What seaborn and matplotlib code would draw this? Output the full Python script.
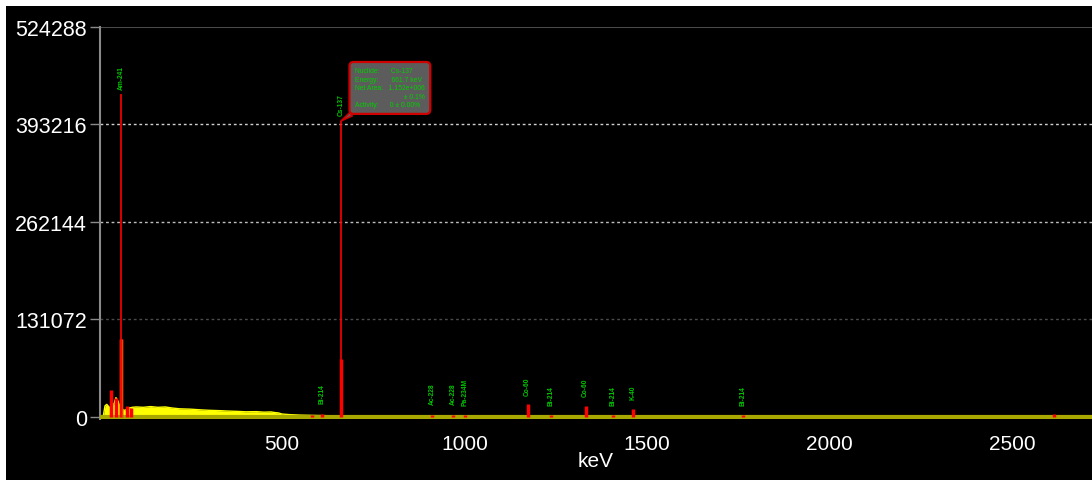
import numpy as np
import pandas as pd
import matplotlib
matplotlib.use('Agg')
import matplotlib.pyplot as plt
from matplotlib.patches import Rectangle
import seaborn as sns

# continuum (yellow area)
cont_kev = [10, 15, 20, 25, 30, 35, 40, 45, 50, 55, 60, 65, 70, 80, 90, 100, 120, 140, 160, 180,
            200, 220, 250, 280, 300, 330, 350, 380, 400, 430, 450, 470, 480, 490, 500, 520, 550,
            600, 650, 700, 800, 1000, 1500, 2000, 2700]
cont_counts = [0, 15000, 17000, 14000, 12000, 16000, 18000, 26000, 22000, 15000, 12000, 9500,
               9000, 12000, 13000, 13500, 13000, 14000, 13000, 13500, 12000, 11000, 10500, 9500,
               9000, 8500, 8000, 7500, 7000, 7200, 6500, 6800, 6000, 5500, 4000, 3200, 2500,
               2000, 1500, 1000, 600, 300, 200, 100, 50]

# red peaks in the spectrum
peak_kev = [32, 46, 59.5, 75, 85, 583, 609, 661.7, 911, 969, 1001, 1173, 1238, 1332, 1408, 1461, 1764, 2614]
peak_counts = [36000, 25000, 105000, 15000, 12000, 3000, 3500, 78000, 2500, 2500, 2500, 17000,
               2500, 15000, 2500, 11000, 2500, 3500]

# identified nuclides (green labels)
nuc_names = ['Am-241', 'Cs-137', 'Bi-214', 'Ac-228', 'Ac-228', 'Pa-234M', 'Co-60', 'Bi-214',
             'Co-60', 'Bi-214', 'K-40', 'Bi-214']
nuc_kev = [59.5, 661.7, 609, 911, 969, 1001, 1173, 1238, 1332, 1408, 1461, 1764]
nuc_top = [434000, 398000, 6000, 5000, 4000, 3000, 17000, 3500, 15000, 3500, 11000, 3500]

y_ticks = [0, 131072, 262144, 393216, 524288]
x_ticks = [500, 1000, 1500, 2000, 2500]

sns.set_style('dark')
plt.rcParams['font.family'] = ['Liberation Sans', 'DejaVu Sans']

fig = plt.figure(figsize=(10.92, 4.85), dpi=100, facecolor='white')
fig.patches.append(Rectangle((6 / 1092, 4 / 485), 1 - 6 / 1092, 474 / 485,
                             transform=fig.transFigure, facecolor='black', edgecolor='none', zorder=-1))
ax = fig.add_axes([99.5 / 1092, 65 / 485, 992.5 / 1092, 392 / 485])
ax.set_facecolor('black')

ax.set_xlim(0, 2719)
ax.set_ylim(-2700, 524288)

# grid lines
ax.axhline(524288, color='#5a5a5a', lw=1.2, zorder=1)
ax.axhline(393216, color='#cfcfcf', lw=1, ls=(0, (2, 2)), zorder=1)
ax.axhline(262144, color='#bdbdbd', lw=1, ls=(0, (2, 2)), zorder=1)
ax.axhline(131072, color='#4a4a4a', lw=1, ls=(0, (2, 2)), zorder=1)

# spectrum
df = pd.DataFrame({'keV': cont_kev, 'counts': cont_counts})
ax.fill_between(df['keV'], 0, df['counts'], color='#ffff00', lw=0, zorder=2)
sns.lineplot(data=df, x='keV', y='counts', color='#ffff00', lw=1, ax=ax, zorder=2)
ax.axhline(0, color='#a8a800', lw=3, zorder=3)

pk = pd.DataFrame({'keV': peak_kev, 'counts': peak_counts})
ax.vlines(pk['keV'], 0, pk['counts'], color='#ff0000', lw=2.5, zorder=4)
ax.vlines([59.5], 0, [105000], color='#e04a00', lw=2.5, zorder=4)

# nuclide markers and labels
for name, e, top in zip(nuc_names, nuc_kev, nuc_top):
    if top > 100000:
        ax.vlines(e, 0, top, color='#ff0000', lw=1.2, zorder=4)
    ax.annotate(name, (e, top), xytext=(0, 4 if top > 100000 else 7), textcoords='offset points',
                rotation=90, ha='center', va='bottom', fontsize=4.8, fontweight='bold',
                color='#00c800', zorder=5)

# callout for Cs-137
info = ('Nuclide:      Cs-137\nEnergy:       661.7 keV\nNet Area:   1.152e+006\n'
        '                          \u00b1 0.1%\nActivity:      0 \u00b1 0.00%')
ax.annotate(info, (661.7, 398000), xytext=(10, 9), textcoords='offset points',
            ha='left', va='bottom', fontsize=4.9, color='#00d000', linespacing=1.3,
            bbox=dict(boxstyle='round,pad=0.8,rounding_size=0.6', fc='#5c5c5c', ec='#d00000', lw=1.6),
            arrowprops=dict(arrowstyle='wedge,tail_width=0.6,shrink_factor=0.5', fc='#5c5c5c',
                            ec='#d00000', lw=1.2, shrinkA=0, shrinkB=0),
            zorder=6)

for s in ['top', 'right', 'bottom']:
    ax.spines[s].set_visible(False)
ax.spines['left'].set_color('#8a8a8a')
ax.spines['left'].set_linewidth(1.5)

ax.set_yticks(y_ticks)
ax.set_yticklabels([str(v) for v in y_ticks])
ax.set_xticks(x_ticks)
ax.set_xticklabels([str(v) for v in x_ticks])
ax.tick_params(axis='x', direction='inout', length=19, width=1.5, color='#a0a0a0',
               labelcolor='white', labelsize=15, pad=1)
ax.tick_params(axis='y', direction='out', length=7, width=1, color='#8a8a8a',
               labelcolor='white', labelsize=15.5, pad=2, left=True)
ax.set_xlabel('keV', color='white', fontsize=15, labelpad=-1)
ax.set_ylabel('')
ax.grid(False)

fig.savefig('out.png', dpi=100, facecolor=fig.get_facecolor())
